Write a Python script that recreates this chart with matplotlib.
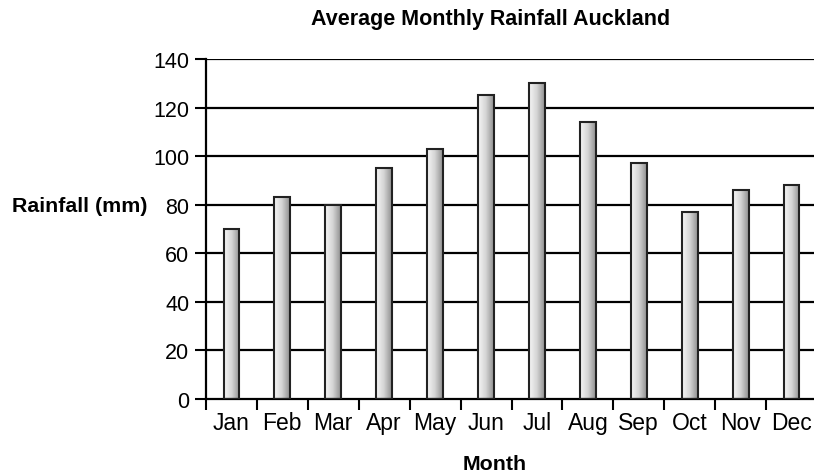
import numpy as np
import matplotlib.pyplot as plt
from matplotlib.colors import LinearSegmentedColormap

plt.rcParams["font.family"] = "Liberation Sans"

months = ["Jan", "Feb", "Mar", "Apr", "May", "Jun",
          "Jul", "Aug", "Sep", "Oct", "Nov", "Dec"]
rainfall = [70, 83, 80, 95, 103, 125, 130, 114, 97, 77, 86, 88]
y_ticks = [0, 20, 40, 60, 80, 100, 120, 140]


def main():
    fig = plt.figure(figsize=(8.14, 4.77), dpi=100)
    ax = fig.add_axes([206 / 814, 1 - 400 / 477, 611 / 814, 340 / 477])

    x = np.arange(len(months))
    width = 0.31
    cmap = LinearSegmentedColormap.from_list("bar", ["#f6f6f6", "#d4d4d4", "#909090"])
    grad = np.linspace(0, 1, 64).reshape(1, -1)

    # horizontal grid lines
    for t in y_ticks[1:]:
        ax.axhline(t, color="black", lw=1.6, zorder=1)

    bars = ax.bar(x, rainfall, width=width, facecolor="none",
                  edgecolor="#222222", lw=1.5, zorder=3)
    for b in bars:
        x0, y0 = b.get_x(), b.get_y()
        im = ax.imshow(grad, cmap=cmap, aspect="auto", zorder=2,
                       extent=[x0, x0 + b.get_width(), y0, y0 + b.get_height()])
        im.set_clip_path(b)

    ax.set_xlim(-0.5, len(months) - 0.5)
    ax.set_ylim(0, 140)

    ax.set_yticks(y_ticks)
    ax.set_yticklabels([str(t) for t in y_ticks], fontsize=15.5)
    ax.set_xticks(np.arange(len(months) + 1) - 0.5)
    ax.set_xticklabels([])
    ax.set_xticks(x, minor=True)
    ax.set_xticklabels(months, minor=True, fontsize=16.5)
    ax.tick_params(axis="x", which="minor", length=0, pad=9)
    ax.tick_params(axis="x", which="major", length=8, width=1.5, direction="out")
    ax.tick_params(axis="y", length=8, width=1.5, direction="out", pad=4)

    for s in ["top", "right"]:
        ax.spines[s].set_visible(False)
    ax.spines["left"].set_linewidth(1.6)
    ax.spines["bottom"].set_linewidth(1.6)

    fig.text(491 / 814, 1 - 20 / 477, "Average Monthly Rainfall Auckland",
             ha="center", va="center", fontsize=15.5, fontweight="bold")
    fig.text(12 / 814, 1 - 207 / 477, "Rainfall (mm)", ha="left", va="center",
             fontsize=15.4, fontweight="bold")
    fig.text(495 / 814, 1 - 465 / 477, "Month", ha="center", va="center",
             fontsize=15.4, fontweight="bold")

    fig.savefig("out.png", dpi=100)
    plt.close()
    return 0


main()
